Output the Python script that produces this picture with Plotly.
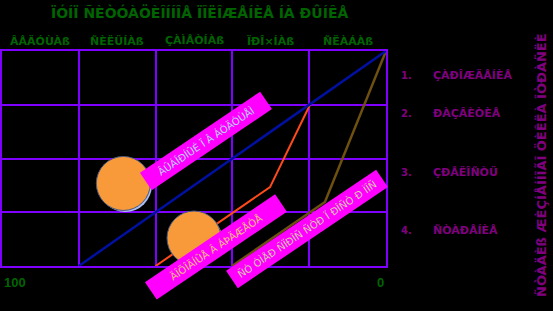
import plotly.graph_objects as go

# ---------------- data ----------------
title_text = "ÏÓÍÏ ÑÈÒÓÀÖÈÎÍÍÎÅ ÏÎËÎÆÅÍÈÅ ÍÀ ÐÛÍÊÅ"
col_headers = ["ÂÅÄÓÙÀß", "ÑÈËÜÍÀß", "ÇÀÌÅÒÍÀß", "ÏÐÎ×ÍÀß", "ÑËÀÁÀß"]
col_centers = [90, 70, 50, 30, 10]
legend_nums = ["1.", "2.", "3.", "4."]
legend_labels = ["ÇÀÐÎÆÄÅÍÈÅ", "ÐÀÇÂÈÒÈÅ", "ÇÐÅËÎÑÒÜ", "ÑÒÀÐÅÍÈÅ"]
vertical_title = "ÑÒÀÄÈß ÆÈÇÍÅÍÍÎÃÎ ÖÈÊËÀ ÎÒÐÀÑËÈ"
x_end_labels = ["100", "0"]

blue_x = [80, 0]
blue_y = [0, 100]
red_x = [60, 30.2, 19.8]
red_y = [0, 36.7, 75]
brown_x = [40.1, 15.9, 0]
brown_y = [0, 29.8, 100]

circle_x = [68.4, 50.0]
circle_y = [38.4, 13.0]

box_texts = ["ÂÛÁÎÐÍÛÉ Ï Â ÁÓÄÓÙÅÌ", "ÄÎÕÎÄÍÛÅ Â ÁÞÄÆÅÒÅ", "ÑÒ ÓÌÅÐ ÑÏÐÎÑ ÑÒÐ Ï ÐÎÑÒ Ð ÌÎÑ"]
box_x = [46.9, 44.3, 20.6]
box_y = [58.1, 8.8, 17.2]

# ---------------- layout geometry ----------------
W, H = 553, 311
L, R, T, B = 2, 167, 51, 45
xr = [100, 0]
yr = [0, 100]
px_per_x = (W - L - R) / (xr[0] - xr[1])
px_per_y = (H - T - B) / (yr[1] - yr[0])

GRID = "#8000ff"
GREEN = "#006400"
PURPLE = "#800080"
FONT = "DejaVu Sans, Liberation Sans, Arial"

fig = go.Figure()

fig.add_trace(go.Scatter(x=red_x, y=red_y, mode="lines",
                         line=dict(color="#ff4a1a", width=2), hoverinfo="skip"))
fig.add_trace(go.Scatter(x=brown_x, y=brown_y, mode="lines",
                         line=dict(color="#6e5010", width=2.5), hoverinfo="skip"))
fig.add_trace(go.Scatter(x=blue_x, y=blue_y, mode="lines",
                         line=dict(color="#0010a0", width=2.5), hoverinfo="skip"))

# circle shadows (offset a couple of pixels down-right)
dx = -2 / px_per_x
dy = -2 / px_per_y
fig.add_trace(go.Scatter(x=[c + dx for c in circle_x], y=[c + dy for c in circle_y],
                         mode="markers",
                         marker=dict(size=53, color="#aabcf0", line=dict(width=0)),
                         hoverinfo="skip"))
fig.add_trace(go.Scatter(x=circle_x, y=circle_y, mode="markers",
                         marker=dict(size=54, color="#f99a3a",
                                     line=dict(color="#4a5a80", width=1)),
                         hoverinfo="skip"))

annotations = []
annotations.append(dict(text=f"<b>{title_text}</b>", xref="paper", yref="paper",
                        x=(199 - L) / (W - L - R), y=1 + (T - 12) / (H - T - B),
                        xanchor="center", yanchor="middle", showarrow=False,
                        font=dict(family=FONT, size=14, color=GREEN)))
for cx, hdr in zip(col_centers, col_headers):
    annotations.append(dict(text=f"<b>{hdr}</b>", xref="x", yref="paper", x=cx,
                            y=1 + (T - 41) / (H - T - B), xanchor="center", yanchor="middle",
                            showarrow=False,
                            font=dict(family=FONT, size=11, color=GREEN)))

legend_py = [75, 113, 172, 230]
for num, lab, py in zip(legend_nums, legend_labels, legend_py):
    yy = (H - B - py) / (H - T - B)
    annotations.append(dict(text=f"<b>{num}</b>", xref="paper", yref="paper",
                            x=(399 - L) / (W - L - R), y=yy, xanchor="left", yanchor="middle",
                            showarrow=False,
                            font=dict(family=FONT, size=10, color=PURPLE)))
    annotations.append(dict(text=f"<b>{lab}</b>", xref="paper", yref="paper",
                            x=(431 - L) / (W - L - R), y=yy, xanchor="left", yanchor="middle",
                            showarrow=False,
                            font=dict(family=FONT, size=11, color=PURPLE)))

annotations.append(dict(text=f"<b>{vertical_title}</b>", xref="paper", yref="paper",
                        x=(541 - L) / (W - L - R), y=(H - B - 165) / (H - T - B),
                        xanchor="center", yanchor="middle", textangle=-90, showarrow=False,
                        font=dict(family=FONT, size=13, color=PURPLE)))

label_y = -(282 - (H - B)) / (H - T - B)
annotations.append(dict(text=f"<b>{x_end_labels[0]}</b>", xref="paper", yref="paper", x=0,
                        y=label_y, xanchor="left", yanchor="middle",
                        showarrow=False,
                        font=dict(family="Liberation Sans, Arial", size=13, color=GREEN)))
annotations.append(dict(text=f"<b>{x_end_labels[1]}</b>", xref="paper", yref="paper",
                        x=(380 - L) / (W - L - R),
                        y=label_y, xanchor="center", yanchor="middle",
                        showarrow=False,
                        font=dict(family="Liberation Sans, Arial", size=13, color=GREEN)))

box_colors = ["#b8d4ff", "#ffc07a", "#dccbaa"]
box_widths = [140, 152, 176]
for t, bx, by, fc, bw in zip(box_texts, box_x, box_y, box_colors, box_widths):
    annotations.append(dict(text=t, xref="x", yref="y", x=bx, y=by,
                            xanchor="center", yanchor="middle", textangle=-34,
                            showarrow=False, bgcolor="#ff00ff", width=bw, height=16,
                            borderpad=2, align="center",
                            font=dict(family="DejaVu Sans", size=10, color=fc)))

fig.update_layout(
    width=W, height=H,
    margin=dict(l=L, r=R, t=T, b=B),
    paper_bgcolor="black", plot_bgcolor="black",
    showlegend=False,
    annotations=annotations,
    xaxis=dict(range=xr, dtick=20, tick0=0, showgrid=True, gridcolor=GRID, gridwidth=1.5,
               zeroline=False, showline=True, linecolor=GRID, linewidth=1.5, mirror=True,
               showticklabels=False, ticks=""),
    yaxis=dict(range=yr, dtick=25, tick0=0, showgrid=True, gridcolor=GRID, gridwidth=1.5,
               zeroline=False, showline=True, linecolor=GRID, linewidth=1.5, mirror=True,
               showticklabels=False, ticks=""),
)

fig.write_html("out.html")
